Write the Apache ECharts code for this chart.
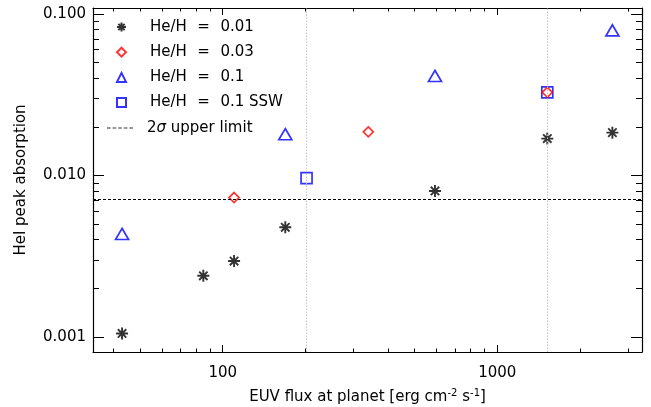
<!DOCTYPE html>
<html><head><meta charset="utf-8">
<script src="https://cdn.jsdelivr.net/npm/echarts@6/dist/echarts.min.js"></script>
<style>html,body{margin:0;padding:0;background:#fff}#c{width:651px;height:407px}</style>
</head><body><div id="c"></div>
<script>
// ---- data ----
const FLUX_HE001 = [43, 85, 110, 169, 593, 1521, 2625];
const ABS_HE001  = [0.00105, 0.00239, 0.00295, 0.00477, 0.00801, 0.0169, 0.0184];
const FLUX_HE003 = [110, 339, 1521];
const ABS_HE003  = [0.00729, 0.0186, 0.0327];
const FLUX_HE01  = [43, 169, 593, 2625];
const ABS_HE01   = [0.00434, 0.0180, 0.0413, 0.0791];
const FLUX_SSW   = [202, 1521];
const ABS_SSW    = [0.00963, 0.0327];
const REF_FLUX   = [202, 1521];
const UPPER_LIMIT = 0.0071;
const SERIES_NAMES = ['He/H = 0.01', 'He/H = 0.03', 'He/H = 0.1', 'He/H = 0.1 SSW'];
const LIMIT_NAME = '2σ upper limit';
const X_MIN = 33.7, X_MAX = 3365;
const Y_MIN = 0.000806, Y_MAX = 0.1088;
const X_MAJOR = [100, 1000];
const X_MINOR = [40, 50, 60, 70, 80, 90, 200, 300, 400, 500, 600, 700, 800, 900, 2000, 3000];
const Y_MAJOR = [0.001, 0.01, 0.1];
const Y_MINOR = [0.002, 0.003, 0.004, 0.005, 0.006, 0.007, 0.008, 0.009,
                 0.02, 0.03, 0.04, 0.05, 0.06, 0.07, 0.08, 0.09];
const X_TITLE = 'EUV flux at planet [erg cm{sup|-2} s{sup|-1}]';
const Y_TITLE = 'HeI peak absorption';

// ---- chart ----
const FONT = 'DejaVu Sans';
const zip = (a, b) => a.map((v, i) => [v, b[i]]);
const ASTERISK = 'path://M0,5L10,5M5,0L5,10M1.5,1.5L8.5,8.5M1.5,8.5L8.5,1.5';
const DASH_ICON = 'path://M0,0h3.6v1h-3.6zM5.6,0h3.6v1h-3.6zM11.2,0h3.6v1h-3.6zM16.8,0h3.6v1h-3.6zM22.4,0h3.6v1h-3.6z';

function xAx(position, ticks, len, lineShow, labelShow, extra) {
  return Object.assign({
    type: 'log', logBase: 10, min: X_MIN, max: X_MAX, position: position,
    axisLine: { show: lineShow, onZero: false, lineStyle: { color: '#000', width: 1.2 } },
    axisTick: { show: true, inside: true, length: len, customValues: ticks, lineStyle: { color: '#000', width: 1 } },
    axisLabel: { show: labelShow, customValues: ticks, margin: 14, color: '#000', fontFamily: FONT, fontSize: 15,
                 formatter: v => String(Math.round(v)) },
    splitLine: { show: false }, minorTick: { show: false }, minorSplitLine: { show: false }
  }, extra || {});
}
function yAx(position, ticks, len, lineShow, labelShow, extra) {
  return Object.assign({
    type: 'log', logBase: 10, min: Y_MIN, max: Y_MAX, position: position,
    axisLine: { show: lineShow, onZero: false, lineStyle: { color: '#000', width: 1.2 } },
    axisTick: { show: true, inside: true, length: len, customValues: ticks, lineStyle: { color: '#000', width: 1 } },
    axisLabel: { show: labelShow, customValues: ticks, margin: 7, color: '#000', fontFamily: FONT, fontSize: 15,
                 formatter: v => Number(v).toFixed(3) },
    splitLine: { show: false }, minorTick: { show: false }, minorSplitLine: { show: false }
  }, extra || {});
}

const outline = (c) => ({ color: 'transparent', borderColor: c, borderWidth: 1.7 });
const legendText = {
  fontFamily: FONT, fontSize: 15, color: '#000', lineHeight: 18,
  rich: {
    g1: { width: 19 }, g2: { width: 9 },
    eq: { width: 24, align: 'center', fontFamily: FONT, fontSize: 15, lineHeight: 18 },
    it: { fontStyle: 'italic', fontFamily: FONT, fontSize: 15, lineHeight: 18 }
  }
};

const option = {
  animation: false,
  backgroundColor: '#fff',
  grid: { left: 93, right: 9, top: 8, bottom: 55, containLabel: false, outerBoundsMode: 'none' },
  xAxis: [
    xAx('bottom', X_MAJOR, 7, true, true, {
      name: X_TITLE, nameLocation: 'middle', nameGap: 36,
      nameTextStyle: { color: '#000', fontFamily: FONT, fontSize: 15, lineHeight: 18,
        rich: { sup: { fontSize: 10, fontFamily: FONT, color: '#000', verticalAlign: 'top', lineHeight: 10 } } }
    }),
    xAx('bottom', X_MINOR, 3.5, false, false),
    xAx('top', X_MAJOR, 7, true, false),
    xAx('top', X_MINOR, 3.5, false, false)
  ],
  yAxis: [
    yAx('left', Y_MAJOR, 11, true, true, {
      name: Y_TITLE, nameLocation: 'middle', nameGap: 64, nameRotate: 90,
      nameTextStyle: { color: '#000', fontFamily: FONT, fontSize: 15 }
    }),
    yAx('left', Y_MINOR, 6, false, false),
    yAx('right', Y_MAJOR, 11, true, false),
    yAx('right', Y_MINOR, 6, false, false)
  ],
  legend: [
    {
      data: SERIES_NAMES, orient: 'vertical', left: 116, top: 18,
      itemWidth: 9, itemHeight: 9, itemGap: 7.2, padding: 0,
      textStyle: legendText, selectedMode: false,
      formatter: n => '{g1| }' + n.replace(' = ', ' {eq|=} ')
    },
    {
      data: [{ name: LIMIT_NAME, icon: DASH_ICON }], orient: 'vertical', left: 107, top: 119,
      itemWidth: 26, itemHeight: 2, padding: 0,
      textStyle: legendText, selectedMode: false,
      formatter: n => '{g2| }' + n.replace('σ', '{it|σ}')
    }
  ],
  series: [
    {
      name: 'ref', type: 'scatter', data: [], silent: true,
      markLine: {
        silent: true, symbol: 'none', precision: 6, label: { show: false },
        lineStyle: { color: '#c4c4c4', type: [1.5, 1.5], width: 1 },
        data: REF_FLUX.map(v => ({ xAxis: v }))
      }
    },
    {
      name: LIMIT_NAME, type: 'scatter', data: [],
      itemStyle: { color: '#000' },
      markLine: {
        silent: true, symbol: 'none', precision: 6, label: { show: false },
        lineStyle: { color: '#000', type: [3, 2], width: 1.2 },
        data: [{ yAxis: UPPER_LIMIT }]
      }
    },
    {
      name: SERIES_NAMES[3], type: 'scatter', data: zip(FLUX_SSW, ABS_SSW),
      symbol: 'rect', symbolSize: 11, itemStyle: outline('#0000ff')
    },
    {
      name: SERIES_NAMES[2], type: 'scatter', data: zip(FLUX_HE01, ABS_HE01),
      symbol: 'triangle', symbolSize: [13, 11], itemStyle: outline('#0000ff')
    },
    {
      name: SERIES_NAMES[1], type: 'scatter', data: zip(FLUX_HE003, ABS_HE003),
      symbol: 'diamond', symbolSize: 10, itemStyle: outline('#ff0000')
    },
    {
      name: SERIES_NAMES[0], type: 'scatter', data: zip(FLUX_HE001, ABS_HE001),
      symbol: ASTERISK, symbolSize: 12, itemStyle: { color: '#000', borderColor: '#000', borderWidth: 1.9 }
    }
  ]
};
const chart = echarts.init(document.getElementById('c'), null, { renderer: 'canvas' });
chart.setOption(option);
</script>
</body></html>
